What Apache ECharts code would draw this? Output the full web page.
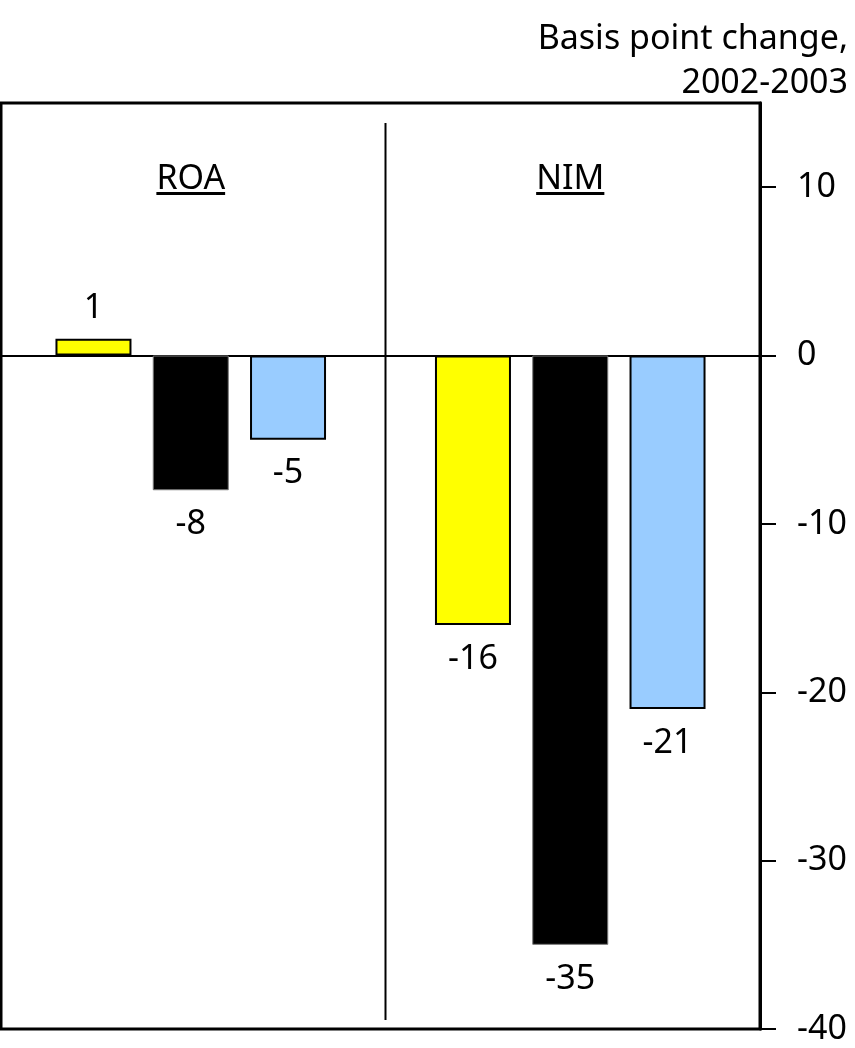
<!DOCTYPE html>
<html>
<head>
<meta charset="utf-8">
<script src="https://cdn.jsdelivr.net/npm/echarts@6/dist/echarts.min.js"></script>
<style>
  html, body { margin: 0; padding: 0; background: #fff; }
  #chart { width: 855px; height: 1048px; }
</style>
</head>
<body>
<div id="chart"></div>
<script>
// Basis point change 2002-2003 in ROA and NIM, three peer groups
const categories = ['ROA', 'NIM'];
const seriesYellow = [1, -16];
const seriesBlack = [-8, -35];
const seriesBlue = [-5, -21];
const yTickValues = [-40, -30, -20, -10, 0, 10];
const yMin = -40;
const yMax = 15;
const unitTitle = 'Basis point change,\n2002-2003';

const FONT = '"Noto Sans", "Open Sans", sans-serif';
const FS = 34;

function withLabels(values) {
  return values.map(v => ({
    value: v,
    label: v >= 0 ? { position: 'top', distance: 13 } : { position: 'bottom', distance: 17 }
  }));
}

function barSeries(name, values, fill, border, bw) {
  return {
    name: name,
    type: 'bar',
    data: withLabels(values),
    barWidth: 76,
    barGap: '28%',
    itemStyle: { color: fill, borderColor: border, borderWidth: bw },
    label: {
      show: true,
      color: '#000',
      fontFamily: FONT,
      fontSize: FS
    },
    emphasis: { disabled: true }
  };
}

const chart = echarts.init(document.getElementById('chart'), null, { renderer: 'canvas' });

chart.setOption({
  animation: false,
  backgroundColor: '#fff',
  grid: {
    left: 1, right: 95, top: 103, bottom: 19,
    show: true, borderColor: '#000', borderWidth: 3, backgroundColor: 'transparent'
  },
  xAxis: {
    type: 'category',
    data: categories,
    boundaryGap: true,
    axisLine: { onZero: true, lineStyle: { color: '#000', width: 2 } },
    axisTick: { show: false },
    axisLabel: { show: false },
    splitLine: { show: false }
  },
  yAxis: {
    type: 'value',
    position: 'right',
    min: yMin,
    max: yMax,
    axisLine: { show: true, lineStyle: { color: '#000', width: 3 } },
    axisTick: {
      show: true, inside: false, length: 16,
      customValues: yTickValues,
      lineStyle: { color: '#000', width: 2 }
    },
    axisLabel: {
      customValues: yTickValues,
      margin: 37,
      color: '#000',
      fontFamily: FONT,
      fontSize: FS
    },
    splitLine: { show: false }
  },
  series: [
    barSeries('Group 1', seriesYellow, '#FFFF00', '#000', 2),
    barSeries('Group 2', seriesBlack, '#000000', '#777', 1),
    barSeries('Group 3', seriesBlue, '#99CCFF', '#000', 2)
  ]
});

// Panel headers, underlines and the divider between the two panels
function measure(text) {
  const c = document.createElement('canvas').getContext('2d');
  c.font = FS + 'px ' + FONT;
  return c.measureText(text).width;
}

const topY = chart.convertToPixel({ yAxisIndex: 0 }, yMax);
const botY = chart.convertToPixel({ yAxisIndex: 0 }, yMin);
const centers = categories.map(c => chart.convertToPixel({ xAxisIndex: 0 }, c));
const dividerX = (centers[0] + centers[1]) / 2 + 5;

const graphics = [];
categories.forEach((c, i) => {
  const w = measure(c);
  graphics.push({
    type: 'text',
    style: {
      text: c, x: centers[i], y: topY + 76,
      align: 'center', verticalAlign: 'middle',
      font: FS + 'px ' + FONT, fill: '#000'
    }
  });
  graphics.push({
    type: 'rect',
    shape: { x: centers[i] - w / 2, y: topY + 89, width: w, height: 3 },
    style: { fill: '#000' }
  });
});
graphics.push({
  type: 'line',
  shape: { x1: dividerX, y1: topY + 20, x2: dividerX, y2: botY - 9 },
  style: { stroke: '#000', lineWidth: 2 }
});
graphics.push({
  type: 'text',
  style: {
    text: unitTitle, x: 848, y: 17,
    align: 'right', verticalAlign: 'top',
    font: FS + 'px ' + FONT, lineHeight: 44, fill: '#000'
  }
});

chart.setOption({ graphic: graphics });
</script>
</body>
</html>
